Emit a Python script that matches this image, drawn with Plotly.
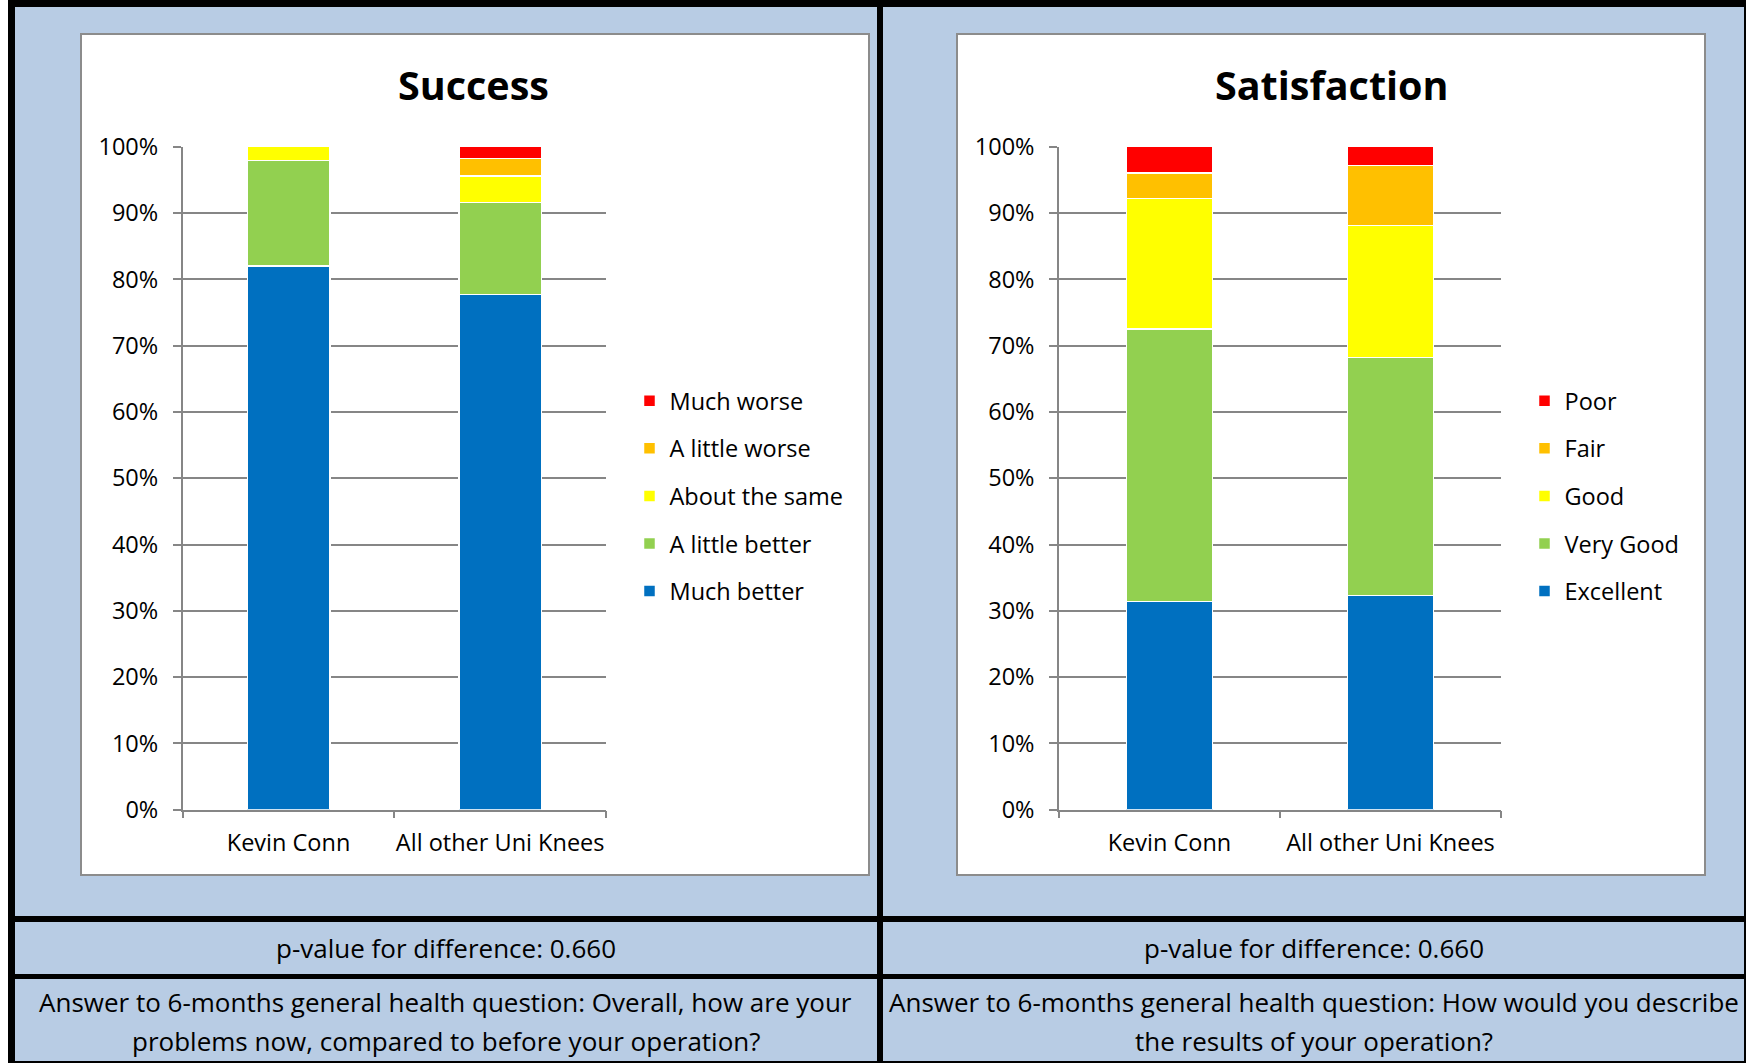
import plotly.graph_objects as go

W, H = 1746, 1063

categories = ["Kevin Conn", "All other Uni Knees"]

success_labels = ["Much better", "A little better", "About the same", "A little worse", "Much worse"]
success_much_better = [82.0, 77.7]
success_little_better = [15.9, 13.9]
success_same = [2.1, 4.0]
success_little_worse = [0.0, 2.6]
success_much_worse = [0.0, 1.8]

satisfaction_labels = ["Excellent", "Very Good", "Good", "Fair", "Poor"]
sat_excellent = [31.4, 32.3]
sat_very_good = [41.1, 35.9]
sat_good = [19.7, 19.9]
sat_fair = [3.8, 9.1]
sat_poor = [4.0, 2.8]

colors = ["#0070C0", "#92D050", "#FFFF00", "#FFC000", "#FF0000"]
y_ticks = list(range(0, 101, 10))
y_tick_labels = [f"{v}%" for v in y_ticks]

titles = ["Success", "Satisfaction"]
pvalue_text = "p-value for difference: 0.660"
question_left = ["Answer to 6-months general health question: Overall, how are your",
                 "problems now, compared to before your operation?"]
question_right = ["Answer to 6-months general health question: How would you describe",
                  "the results of your operation?"]

FONT = "Open Sans"
GRID = "#868686"
BLUE_BG = "#B8CCE4"
TICK_SIZE = 23.5
LEG_SIZE = 23.5
BOTTOM_SIZE = 26


def fx(px):
    return px / W


def fy(py):
    return 1 - py / H


fig = go.Figure()

success_series = [success_much_better, success_little_better, success_same,
                  success_little_worse, success_much_worse]
sat_series = [sat_excellent, sat_very_good, sat_good, sat_fair, sat_poor]

n = len(colors)
for i, (name, vals, col) in enumerate(zip(success_labels, success_series, colors)):
    fig.add_trace(go.Bar(
        x=categories, y=vals, name=name, marker=dict(color=col, line=dict(color="white", width=1.5)),
        width=0.39, xaxis="x", yaxis="y", legend="legend", legendgroup="s_" + name,
        legendrank=n - i,
        hovertemplate="%{x}: %{y:.1f}%<extra>" + name + "</extra>"))

for i, (name, vals, col) in enumerate(zip(satisfaction_labels, sat_series, colors)):
    fig.add_trace(go.Bar(
        x=categories, y=vals, name=name, marker=dict(color=col, line=dict(color="white", width=1.5)),
        width=0.39, xaxis="x2", yaxis="y2", legend="legend2", legendgroup="t_" + name,
        legendrank=n - i,
        hovertemplate="%{x}: %{y:.1f}%<extra>" + name + "</extra>"))

# background frame
shapes = [dict(type="rect", xref="paper", yref="paper", x0=fx(8), x1=fx(1746), y0=fy(1063), y1=fy(0),
               fillcolor="black", line=dict(width=0), layer="below")]
cells = [(15, 877, 7, 916), (883, 1744, 7, 916),
         (15, 877, 922, 974), (883, 1744, 922, 974),
         (15, 877, 979, 1061), (883, 1744, 979, 1061)]
for x0, x1, y0, y1 in cells:
    shapes.append(dict(type="rect", xref="paper", yref="paper", x0=fx(x0), x1=fx(x1), y0=fy(y1), y1=fy(y0),
                       fillcolor=BLUE_BG, line=dict(width=0), layer="below"))
for x0, x1 in [(81, 869), (957, 1705)]:
    shapes.append(dict(type="rect", xref="paper", yref="paper", x0=fx(x0), x1=fx(x1), y0=fy(875), y1=fy(34),
                       fillcolor="white", line=dict(color="#8c8c8c", width=2), layer="below"))

annotations = []
for t, cx in zip(titles, [474, 1332]):
    annotations.append(dict(text="<b>" + t + "</b>", x=fx(cx), y=fy(85), xref="paper", yref="paper",
                            showarrow=False, xanchor="center", yanchor="middle",
                            font=dict(family=FONT, size=39.5, color="black")))
for cx in [446, 1314]:
    annotations.append(dict(text=pvalue_text, x=fx(cx), y=fy(948), xref="paper", yref="paper",
                            showarrow=False, xanchor="center", yanchor="middle",
                            font=dict(family=FONT, size=BOTTOM_SIZE, color="black")))
for lines, cx in [(question_left, 446), (question_right, 1314)]:
    for line, cy in zip(lines, [1002, 1041]):
        annotations.append(dict(text=line, x=fx(cx), y=fy(cy), xref="paper", yref="paper",
                                showarrow=False, xanchor="center", yanchor="middle",
                                font=dict(family=FONT, size=BOTTOM_SIZE, color="black")))

xaxis_common = dict(range=[-0.5, 1.5], showline=True, linecolor=GRID, linewidth=1.5, ticks="outside",
                    tickson="boundaries", ticklen=7, tickcolor=GRID, tickwidth=1.5, showgrid=False,
                    tickangle=0,
                    tickfont=dict(family=FONT, size=TICK_SIZE, color="black"), ticklabelstandoff=11,
                    fixedrange=True, automargin=False)
yaxis_common = dict(range=[0, 100], tickmode="array", tickvals=y_ticks, ticktext=y_tick_labels,
                    showline=True, linecolor=GRID,
                    linewidth=1.5, ticks="outside", ticklen=8, tickcolor=GRID, tickwidth=1.5,
                    showgrid=True, gridcolor=GRID, gridwidth=1.5, zeroline=False,
                    tickfont=dict(family=FONT, size=TICK_SIZE, color="black"), ticklabelstandoff=10,
                    fixedrange=True, automargin=False)

ydom = [fy(809.7), fy(146.7)]
legend_common = dict(yanchor="middle", y=fy(496), xanchor="left", traceorder="grouped",
                     tracegroupgap=14, bgcolor="rgba(0,0,0,0)",
                     font=dict(family=FONT, size=LEG_SIZE, color="black"))

fig.update_layout(
    width=W, height=H, margin=dict(l=0, r=0, t=0, b=0, pad=0, autoexpand=False),
    paper_bgcolor="white", plot_bgcolor="rgba(0,0,0,0)",
    barmode="stack", showlegend=True,
    font=dict(family=FONT, color="black"),
    xaxis=dict(xaxis_common, domain=[fx(182.7), fx(606)], anchor="y"),
    yaxis=dict(yaxis_common, domain=ydom, anchor="x"),
    xaxis2=dict(xaxis_common, domain=[fx(1059), fx(1501)], anchor="y2"),
    yaxis2=dict(yaxis_common, domain=ydom, anchor="x2"),
    legend=dict(legend_common, x=fx(629.5)),
    legend2=dict(legend_common, x=fx(1524.5)),
    shapes=shapes, annotations=annotations,
)

fig.write_html(
    "out.html",
    config={"displayModeBar": False},
    post_script="document.body.style.margin='0px';document.body.style.padding='0px';"
                "document.body.style.overflow='hidden';",
)
